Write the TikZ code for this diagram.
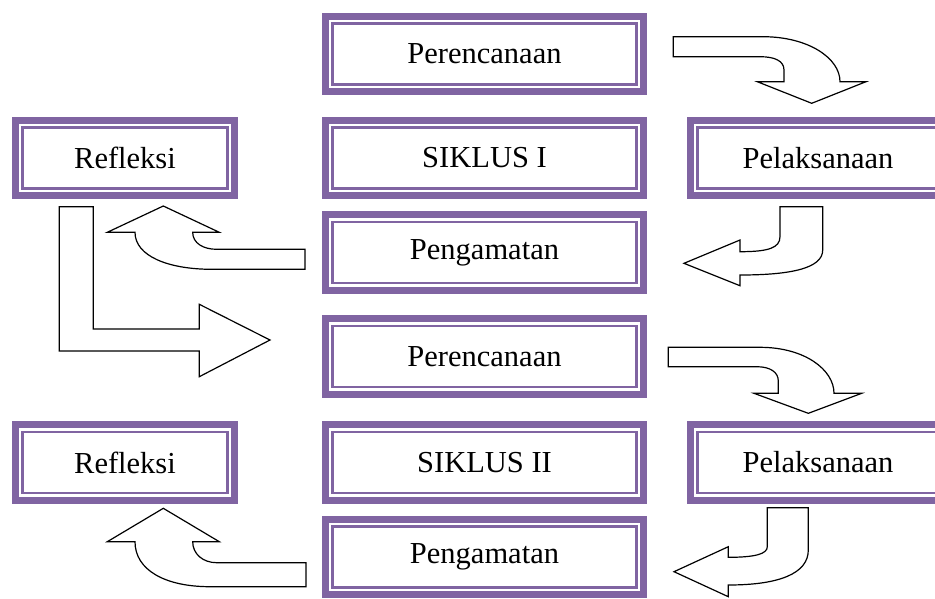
\documentclass[tikz,border=0pt]{standalone}
\usepackage{fontspec}
\setmainfont{Liberation Serif}
\usetikzlibrary{positioning}
\definecolor{siklus}{HTML}{8064A2}
\tikzstyle{stage} = [draw=siklus, line width=6.6pt, rectangle, outer sep=0pt, inner sep=0pt, minimum height=75.5pt, font=\fontsize{30.5}{36}\selectfont]
\tikzstyle{wide} = [stage, minimum width=318.5pt]
\tikzstyle{side} = [stage, minimum width=219.5pt]
\tikzstyle{rim} = [draw=siklus, line width=2.3pt]
\tikzstyle{bent} = [draw=black, fill=white, line width=1.2pt]

\begin{document}
\begin{tikzpicture}[x=1pt, y=-1pt]
    \useasboundingbox (0,0) rectangle (935,598);

    % We start by placing the blocks
    \node [wide] (ren1) at (484.5,54) {Perencanaan};
    \node [wide] (sik1) at (484.5,158) {SIKLUS I};
    \node [side, left of=sik1, node distance=359.5pt] (ref1) {Refleksi};
    \node [stage, minimum width=255.5pt, right of=sik1, node distance=333.5pt] (pel1) {Pelaksanaan};
    \node [wide] (pen1) at (484.5,252.5) {Pengamatan};

    \node [wide] (ren2) at (484.5,356.5) {Perencanaan};
    \node [wide] (sik2) at (484.5,462.5) {SIKLUS II};
    \node [side, left of=sik2, node distance=359.5pt] (ref2) {Refleksi};
    \node [stage, minimum width=255.5pt, right of=sik2, node distance=333.5pt] (pel2) {Pelaksanaan};
    \node [wide] (pen2) at (484.5,557) {Pengamatan};

    % thin inner frame
    \foreach \n in {ren1,sik1,ref1,pel1,pen1,ren2,sik2,ref2,pel2,pen2}
        \draw [rim] ([shift={(7.3pt,7.3pt)}]\n.south west) rectangle ([shift={(-7.3pt,-7.3pt)}]\n.north east);

    % bent arrows, cycle I
    \draw [bent] (673.3,36.7) -- (763,36.7) .. controls (808,36.7) and (840,58) .. (840,81.7)
        -- (866,81.7) -- (811.7,103.3) -- (757.3,81.7) -- (784,81.7) -- (784,70)
        .. controls (784,61) and (775,56.7) .. (760,56.7) -- (673.3,56.7) -- cycle;
    \draw [bent] (780,206.7) -- (822.7,206.7) -- (822.7,250)
        .. controls (822.7,268) and (792,275) .. (740,275) -- (740,285.7) -- (684,263.3)
        -- (740,240) -- (740,251.7) .. controls (768,251.7) and (780,248) .. (780,236.7) -- cycle;
    \draw [bent] (305,249.3) -- (216.7,249.3) .. controls (203,249.3) and (192.7,243) .. (192.7,232.3)
        -- (219.3,232.3) -- (163.3,206) -- (107.3,232.3) -- (135,232.3)
        .. controls (135,256) and (168,269.3) .. (212,269.3) -- (305,269.3) -- cycle;
    \draw [bent] (59.3,206.7) -- (93.3,206.7) -- (93.3,329) -- (199.3,329) -- (199.3,304.3)
        -- (270,340) -- (199.3,376.7) -- (199.3,351) -- (59.3,351) -- cycle;

    % bent arrows, cycle II
    \draw [bent] (668.3,347.3) -- (760,347.3) .. controls (805,347.3) and (834,370) .. (834,393.3)
        -- (861.7,393.3) -- (808.3,413.3) -- (754,393.3) -- (778.3,393.3) -- (778.3,381)
        .. controls (778.3,372) and (770,366.7) .. (756.7,366.7) -- (668.3,366.7) -- cycle;
    \draw [bent] (767.3,507.7) -- (808.3,507.7) -- (808.3,550)
        .. controls (808.3,574) and (778,585) .. (728.3,585) -- (728.3,596.7) -- (674,571.7)
        -- (728.3,546.7) -- (728.3,557.3) .. controls (755,557.3) and (767.3,554) .. (767.3,546.7) -- cycle;
    \draw [bent] (306,562.7) -- (216.7,562.7) .. controls (203,562.7) and (192.7,554) .. (192.7,541.7)
        -- (219.3,541.7) -- (163.3,508.3) -- (107.3,541.7) -- (135,541.7)
        .. controls (135,570) and (165,586.7) .. (210,586.7) -- (306,586.7) -- cycle;

\end{tikzpicture}
\end{document}
